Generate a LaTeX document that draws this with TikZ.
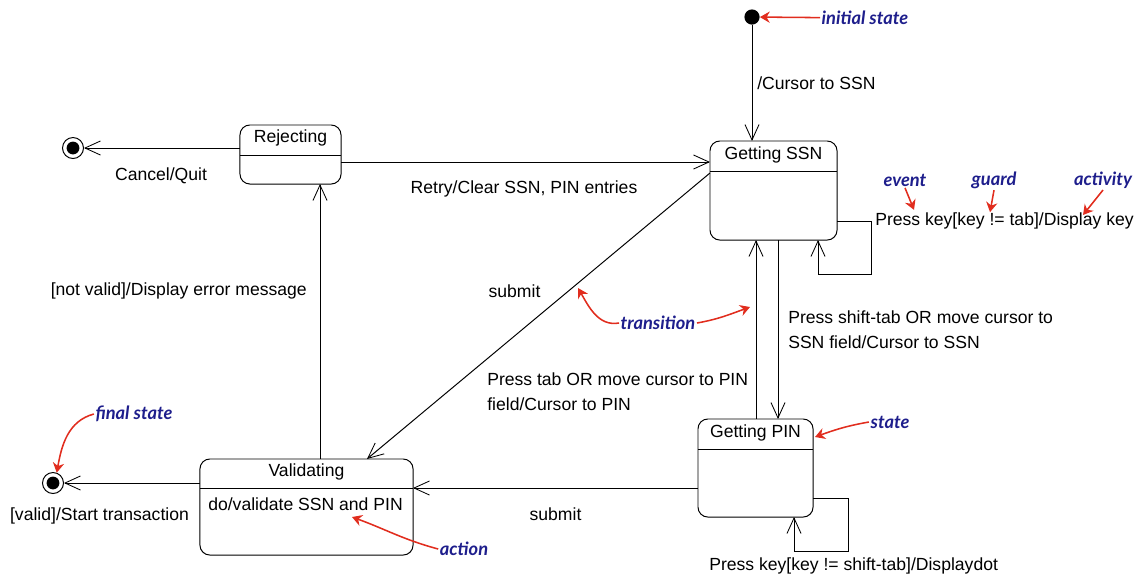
\documentclass[tikz,border=0pt]{standalone}
\usepackage{fontspec}
\setmainfont{Liberation Sans}
\newfontfamily\notefont{Lato}
\usepackage{xcolor}
\usetikzlibrary{arrows.meta}
\definecolor{notenavy}{RGB}{30,30,140}
\definecolor{notered}{RGB}{225,45,30}

\begin{document}
\begin{tikzpicture}[x=0.025cm, y=-0.025cm,
        state/.style={draw, rounded corners=7pt, line width=0.7pt, inner sep=0pt, outer sep=0pt},
        trans/.style={line width=0.7pt, -{Straight Barb[length=11pt,width=10pt,line width=0.6pt]}},
        txt/.style={font=\fontsize{12.5}{17.8}\selectfont, inner sep=0pt},
        note/.style={font=\notefont\bfseries\itshape\fontsize{13}{15}\selectfont, text=notenavy, inner sep=1pt},
        pointer/.style={notered, line width=1.1pt, -{Stealth[length=7pt,width=8pt]}},
        initst/.style={circle, fill, minimum size=0.38cm, inner sep=0pt},
        finalst/.style={circle, draw, line width=0.7pt, minimum size=0.525cm, inner sep=0pt,
            path picture={\fill (path picture bounding box.center) circle (0.16cm);}}]
        \useasboundingbox (0,0) rectangle (1135,575);

        % Draw the states
        \node[state, minimum width=2.525cm, minimum height=1.475cm] (rej) at (290.5,154.5) {};
        \node[state, minimum width=3.175cm, minimum height=2.475cm] (ssn) at (773.5,190.5) {};
        \node[state, minimum width=2.875cm, minimum height=2.45cm] (pin) at (755.5,468) {};
        \node[state, minimum width=5.325cm, minimum height=2.4cm] (val) at (306.5,507) {};

        % Name compartments
        \draw[line width=0.7pt] (rej.west |- 0,155) -- (rej.east |- 0,155);
        \draw[line width=0.7pt] (ssn.west |- 0,171) -- (ssn.east |- 0,171);
        \draw[line width=0.7pt] (pin.west |- 0,449) -- (pin.east |- 0,449);
        \draw[line width=0.7pt] (val.west |- 0,488) -- (val.east |- 0,488);
        \node[txt] (rej-name) at (290.5,138) {Rejecting};
        \node[txt] (ssn-name) at (773.5,155) {Getting SSN};
        \node[txt] (pin-name) at (755.5,433) {Getting PIN};
        \node[txt] (val-name) at (306.5,472) {Validating};
        \node[txt, anchor=west] (val-do) at (208,504) {do/validate SSN and PIN};

        % Initial and final states
        \node[initst] (init) at (752,17) {};
        \node[finalst] (fin1) at (73,148) {};
        \node[finalst] (fin2) at (53,483) {};

        % Transitions
        \draw[trans] (init) -- (init |- ssn.north);
        \draw[trans] (rej.west |- fin1) -- (fin1);
        \draw[trans] (rej.east |- 0,162) -- (ssn.west |- 0,162);
        \draw[trans] (ssn.west |- 0,173) -- (val.north -| 367,0);
        \draw[trans] (val.north -| 320,0) -- (rej.south -| 320,0);
        \draw[trans] (val.west |- fin2) -- (fin2);
        \draw[trans] (pin.west |- 0,488) -- (val.east |- 0,488);
        \draw[trans] (pin.north -| 756,0) -- (ssn.south -| 756,0);
        \draw[trans] (ssn.south -| 778,0) -- (pin.north -| 778,0);
        \draw[trans] (ssn.east |- 0,221) -| (871,274) -| (ssn.south -| 818,0);
        \draw[trans] (pin.east |- 0,498) -| (848,551) -| (pin.south -| 794,0);

        % Transition labels
        \node[txt, anchor=west] (l-cursor) at (757,83) {/Cursor to SSN};
        \node[txt] (l-cancel) at (161,176) {Cancel/Quit};
        \node[txt] (l-retry) at (524,189) {Retry/Clear SSN, PIN entries};
        \node[txt, anchor=east] (l-invalid) at (307,291) {[not valid]/Display error message};
        \node[txt] (l-submit1) at (514.5,291) {submit};
        \node[txt, anchor=west, align=left] (l-tab) at (487,392) {Press tab OR move cursor to PIN\\field/Cursor to PIN};
        \node[txt, anchor=west, align=left] (l-shift) at (788,329.5) {Press shift-tab OR move cursor to\\SSN field/Cursor to SSN};
        \node[txt] (l-submit2) at (555.5,514) {submit};
        \node[txt] (l-valid) at (99.5,516) {[valid]/Start transaction};
        \node[txt, anchor=west] (l-keyssn) at (875,221) {Press key[key != tab]/Display key};
        \node[txt, anchor=west] (l-keypin) at (709,566) {Press key[key != shift-tab]/Displaydot};

        % Notes
        \node[note] (n-init) at (865,18) {initial state};
        \node[note] (n-event) at (905,180) {event};
        \node[note] (n-guard) at (994,180) {guard};
        \node[note] (n-act) at (1103,180) {activity};
        \node[note] (n-trans) at (658,323) {transition};
        \node[note] (n-state) at (890,422) {state};
        \node[note] (n-final) at (134,414) {final state};
        \node[note] (n-action) at (464,549) {action};

        \draw[pointer] (n-init) -- (init);
        \draw[pointer] (n-event.south) -- ++(9,22);
        \draw[pointer] (n-guard.south) -- ++(-4,22);
        \draw[pointer] (n-act.south) -- ++(-20,25);
        \draw[pointer] (n-trans.west) to[out=190,in=-60] (578,288);
        \draw[pointer] (n-trans.east) to[out=10,in=200] (750,307);
        \draw[pointer] (n-state.west) to[out=190,in=20] (815,437);
        \draw[pointer] (n-final.west) to[out=195,in=80] (fin2.70);
        \draw[pointer] (n-action.west) to[out=165,in=-20] (352,517);
    \end{tikzpicture}
\end{document}
